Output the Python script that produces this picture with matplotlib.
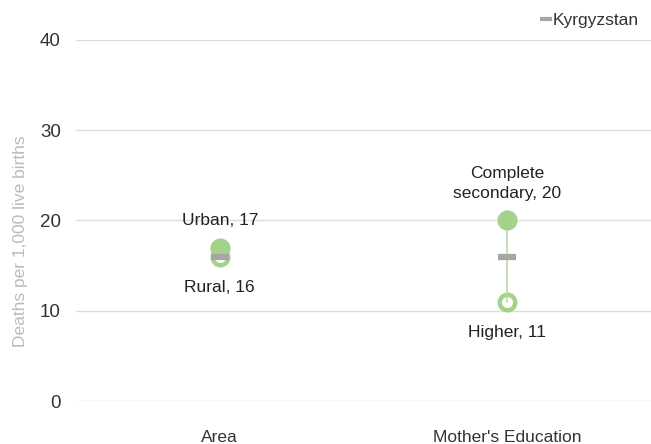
import matplotlib
matplotlib.use("Agg")
import matplotlib.pyplot as plt
from matplotlib.lines import Line2D

categories = ["Area", "Mother's Education"]
high_labels = ["Urban", "Complete\nsecondary"]
high_values = [17, 20]
low_labels = ["Rural", "Higher"]
low_values = [16, 11]
national = [16, 16]
national_name = "Kyrgyzstan"
yticks = [0, 10, 20, 30, 40]

plt.rcParams['font.family'] = ['Liberation Sans', 'DejaVu Sans']

green = "#a3d38a"
line_green = "#b5d9a0"
gray = "#a6a6a6"
text = "#222222"

fig = plt.figure(figsize=(6.51, 4.44), dpi=100)
ax = fig.add_axes([76/651, (444-401)/444, 1-76/651, (401-40)/444])

xs = list(range(len(categories)))
for x, h, l in zip(xs, high_values, low_values):
    ax.plot([x, x], [h, l], color=line_green, lw=1.1, zorder=3.5)
ax.scatter(xs, low_values, s=125, facecolor="white", edgecolor=green, linewidths=3.2, zorder=3)
ax.scatter(xs, high_values, s=210, color=green, zorder=4, linewidths=0)
ax.plot(xs, national, linestyle="none", marker="_", markersize=13, mew=4.5, color=gray, zorder=5)

for x, h, lab in zip(xs, high_values, high_labels):
    ax.annotate(f"{lab}, {h}", (x, h), xytext=(0, 14), textcoords="offset points",
                ha="center", va="bottom", fontsize=12.5, color=text, linespacing=1.45)
for x, v, lab in zip(xs, low_values, low_labels):
    ax.annotate(f"{lab}, {v}", (x, v), xytext=(0, -17), textcoords="offset points",
                ha="center", va="top", fontsize=12.5, color=text)

ax.set_xlim(-0.5, 1.5)
ax.set_ylim(0, 40)
ax.set_yticks(yticks)
ax.set_yticklabels([str(t) for t in yticks], fontsize=13.5, color="#333333")
ax.set_xticks(xs)
ax.set_xticklabels(categories, fontsize=12.5, color="#333333")
ax.tick_params(axis="y", length=0, pad=11)
ax.tick_params(axis="x", length=0, pad=21)
ax.grid(axis="y", color="#dddddd", lw=1)
ax.set_axisbelow(True)
for s in ax.spines.values():
    s.set_visible(False)
ax.set_ylabel("Deaths per 1,000 live births", fontsize=12.5, color="#bbbbbb")
ax.yaxis.set_label_coords((28 - 76) / 575, (401 - 241) / 361)

handle = Line2D([], [], linestyle="none", marker="_", markersize=9, mew=3, color=gray)
leg = ax.legend([handle], [national_name], loc="lower right", bbox_to_anchor=(1.0, 1.0),
                frameon=False, fontsize=12.5, handlelength=0.6, handletextpad=0.1,
                borderaxespad=0.6, borderpad=0.1)
for t in leg.get_texts():
    t.set_color("#333333")

fig.savefig("out.png", dpi=100)
